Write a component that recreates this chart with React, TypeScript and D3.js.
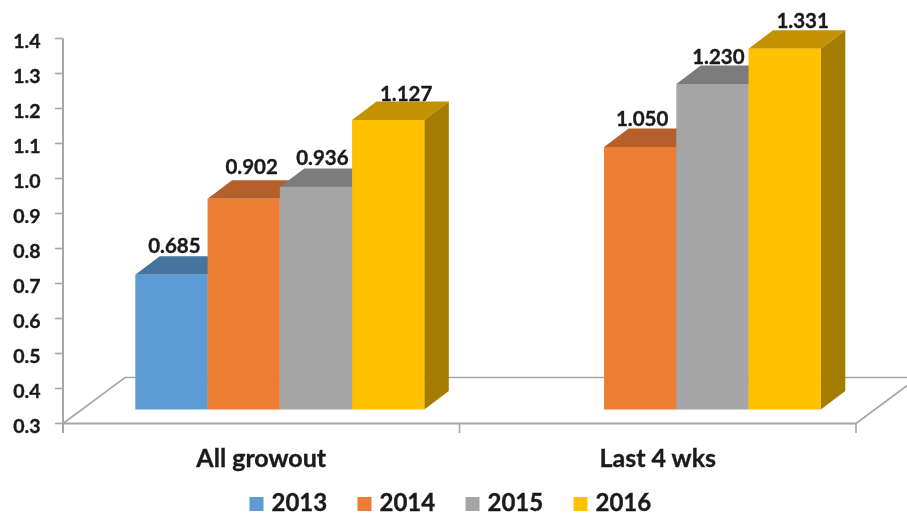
import React from "react";
import * as d3 from "d3";

const categories = ["All growout", "Last 4 wks"];
const years = ["2013", "2014", "2015", "2016"];
const values2013: (number | null)[] = [0.685, null];
const values2014: (number | null)[] = [0.902, 1.05];
const values2015: (number | null)[] = [0.936, 1.23];
const values2016: (number | null)[] = [1.127, 1.331];
const yTicks = [0.3, 0.4, 0.5, 0.6, 0.7, 0.8, 0.9, 1.0, 1.1, 1.2, 1.3, 1.4];
const seriesValues = [values2013, values2014, values2015, values2016];

// layout & style
const frontColors = ["#5B9BD5", "#ED7D31", "#A5A5A5", "#FFC000"];
const topColors = ["#44749F", "#B5602A", "#7C7C7C", "#C29200"];
const sideColors = ["#3A6488", "#9C5320", "#6A6A6A", "#A37C00"];
const labelNudgeX = [
  [3, 8, 6.5, 18],
  [0, 2, 6, 18],
];
const labelGapY = [
  [22, 25, 22, 19],
  [0, 21, 20, 21],
];
const font = "Lato, 'Open Sans', sans-serif";
const textColor = "#1a1a1a";
const axisColor = "#a6a6a6";
const W = 907;
const H = 516;
const axisX = 63;
const axisRight = 856;
const floorDx = 62;
const floorDy = 46;
const barLift = 14;
const barShift = 18.55;
const depthDx = 24.5;
const depthDy = 18.5;

export default function App() {
  const y = d3.scaleLinear().domain([0.3, 1.4]).range([423.5, 38.5]);
  const x0 = d3.scaleBand<string>().domain(categories).range([axisX, axisRight]);
  const barsTotal = 289;
  const x1 = d3.scaleBand<string>().domain(years).range([0, barsTotal]);
  const base = y(0.3) - barLift;

  const quad = (pts: [number, number][]) => d3.line()(pts) + "Z";

  return (
    <svg
      width={W}
      height={H}
      viewBox={`0 0 ${W} ${H}`}
      style={{ position: "absolute", left: 0, top: 0, background: "#fff" }}
      fontFamily={font}
      fontWeight={700}
    >
      <defs>
        <filter id="soft" x="-2%" y="-2%" width="104%" height="104%">
          <feGaussianBlur stdDeviation="0.45" />
        </filter>
      </defs>
      <g filter="url(#soft)">
        {/* floor */}
        <g stroke={axisColor} strokeWidth={1.6} fill="none">
          <path
            d={d3.line()([
              [axisX, y(0.3)],
              [axisX + floorDx, y(0.3) - floorDy],
              [axisRight + floorDx, y(0.3) - floorDy],
              [axisRight, y(0.3)],
            ]) as string}
          />
          <line x1={axisX} x2={axisX} y1={y(1.4)} y2={433} strokeWidth={2} />
          <line x1={axisX} x2={axisRight} y1={y(0.3)} y2={y(0.3)} strokeWidth={2} />
          {yTicks.map((t) => (
            <line key={t} x1={55} x2={axisX} y1={y(t)} y2={y(t)} />
          ))}
          {[axisX, x0(categories[1])!, axisRight].map((tx) => (
            <line key={tx} x1={tx} x2={tx} y1={y(0.3)} y2={433} />
          ))}
        </g>

        {/* bars */}
        {categories.map((c, ci) =>
          years.map((yr, si) => {
            const v = seriesValues[si][ci];
            if (v == null) return null;
            const bandLeft = x0(c)! + (x0.bandwidth() - barsTotal) / 2 + barShift;
            const left = bandLeft + x1(yr)!;
            const right = left + x1.bandwidth();
            const top = y(v) - barLift;
            return (
              <g key={c + yr}>
                <path
                  d={quad([
                    [left, top],
                    [left + depthDx, top - depthDy],
                    [right + depthDx, top - depthDy],
                    [right, top],
                  ])}
                  fill={topColors[si]}
                />
                <path
                  d={quad([
                    [right, top],
                    [right + depthDx, top - depthDy],
                    [right + depthDx, base - depthDy],
                    [right, base],
                  ])}
                  fill={sideColors[si]}
                />
                <rect x={left} y={top} width={right - left} height={base - top} fill={frontColors[si]} />
              </g>
            );
          })
        )}

        <g stroke={textColor} strokeWidth={0.35} fill={textColor}>
          {/* value labels */}
          {categories.map((c, ci) =>
            years.map((yr, si) => {
              const v = seriesValues[si][ci];
              if (v == null) return null;
              const bandLeft = x0(c)! + (x0.bandwidth() - barsTotal) / 2 + barShift;
              const cx = bandLeft + x1(yr)! + x1.bandwidth() / 2 + labelNudgeX[ci][si];
              return (
                <text key={c + yr} x={cx} y={y(v) - barLift - labelGapY[ci][si]} textAnchor="middle" fontSize={20.5}>
                  {v.toFixed(3)}
                </text>
              );
            })
          )}

          {/* y tick labels */}
          {yTicks.map((t) => (
            <text key={t} x={40.5} y={y(t) + 9} textAnchor="end" fontSize={19.5}>
              {t.toFixed(1)}
            </text>
          ))}

          {/* category labels */}
          {categories.map((c) => (
            <text key={c} x={x0(c)! + x0.bandwidth() / 2} y={467} textAnchor="middle" fontSize={25}>
              {c}
            </text>
          ))}

          {/* legend */}
          {years.map((yr, i) => (
            <g key={yr} transform={`translate(${249.5 + i * 108},0)`}>
              <rect x={0} y={497} width={14} height={14} fill={frontColors[i]} stroke="none" />
              <text x={22} y={510.5} fontSize={24}>
                {yr}
              </text>
            </g>
          ))}
        </g>
      </g>
    </svg>
  );
}
